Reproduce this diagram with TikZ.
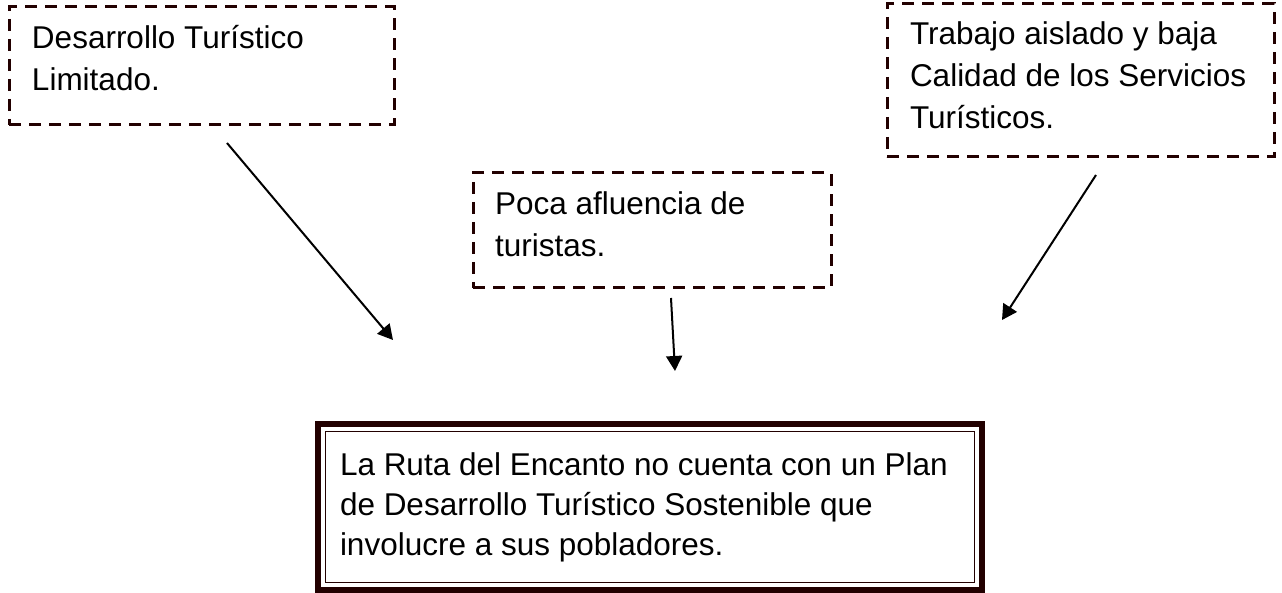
\documentclass[tikz,border=0pt]{standalone}
\usepackage{fontspec}
\setmainfont{Liberation Sans}
\usetikzlibrary{arrows.meta}
\definecolor{brd}{RGB}{34,0,0}
\tikzset{
  txt/.style={font=\fontsize{15.75pt}{21pt}\selectfont, align=flush left, anchor=north west, outer sep=0pt, inner ysep=0pt},
  dbox/.style={txt, draw=brd, line width=1.5pt, dash pattern=on 6pt off 4pt},
  mbox/.style={txt, font=\fontsize{15.75pt}{20pt}\selectfont, draw=brd, line width=3.2pt},
  thinframe/.style={draw=brd, line width=0.9pt},
  arr/.style={line width=1pt, -{Triangle[length=7.5pt,width=8pt]}}
}
\begin{document}
\begin{tikzpicture}[x=0.5pt,y=-0.5pt]
\useasboundingbox (0,0) rectangle (1282,593);
% dashed cause boxes
\node[dbox, inner xsep=11.5pt, text width=169.5pt, text height=21pt, text depth=38pt] (b1) at (9,7)
  {\mbox{Desarrollo Turístico}\\\mbox{Limitado.}};
\node[dbox, inner xsep=11pt, text width=157pt, text height=21pt, text depth=36.5pt] (b2) at (473,173)
  {\mbox{Poca afluencia de}\\\mbox{turistas.}};
\node[dbox, inner xsep=11.5pt, text width=170.5pt, text height=20.5pt, text depth=56pt] (b3) at (887,4)
  {\mbox{Trabajo aislado y baja}\\\mbox{Calidad de los Servicios}\\\mbox{Turísticos.}};
% main problem box
\node[mbox, inner xsep=11pt, text width=310pt, text height=26pt, text depth=57pt] (pb) at (318,424)
  {\mbox{La Ruta del Encanto no cuenta con un Plan}\\\mbox{de Desarrollo Turístico Sostenible que}\\\mbox{involucre a sus pobladores.}};
\draw[thinframe] ([xshift=3.75pt,yshift=-3.75pt]pb.north west) rectangle ([xshift=-3.75pt,yshift=3.75pt]pb.south east);
% arrows
\coordinate (a1s) at (227,143); \coordinate (a1e) at (393,340);
\coordinate (a2s) at (671,298); \coordinate (a2e) at (675,371);
\coordinate (a3s) at (1096,175); \coordinate (a3e) at (1002,320);
\draw[arr] (a1s) -- (a1e);
\draw[arr] (a2s) -- (a2e);
\draw[arr] (a3s) -- (a3e);
\end{tikzpicture}
\end{document}
